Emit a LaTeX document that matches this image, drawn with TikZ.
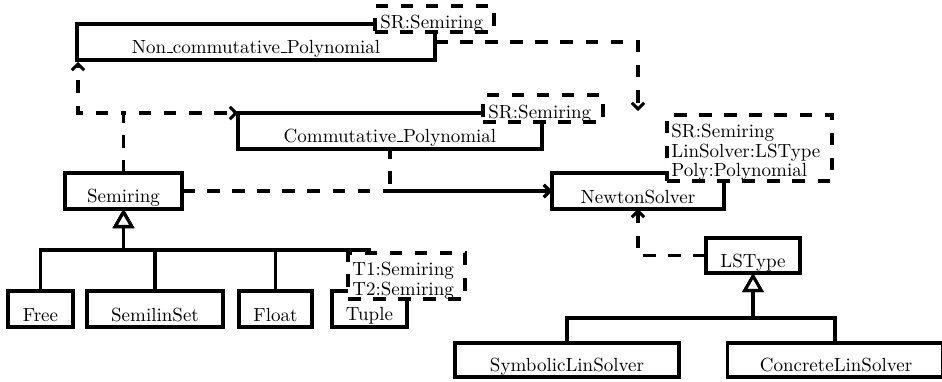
\documentclass[tikz,border=0pt]{standalone}
\usetikzlibrary{arrows.meta,calc}
\newcommand\usc{\leavevmode\kern.06em\vbox{\hrule width.3em}}
\begin{document}
\begin{tikzpicture}[x=0.526pt,y=-0.526pt,
  sz/.style 2 args={minimum width=#1*0.526pt, minimum height=#2*0.526pt},
  cls/.style={draw, line width=1.6pt, fill=white, inner sep=0pt, outer sep=0pt},
  tpl/.style={draw, line width=1.6pt, dash pattern=on 6.6pt off 6.6pt, fill=white, inner sep=0pt, outer sep=0pt},
  lbl/.style={inner sep=0pt, anchor=base},
  tlbl/.style={inner sep=0pt, anchor=base west},
  dep/.style={line width=1.6pt, dash pattern=on 6.6pt off 6.6pt, -{Straight Barb[length=3.2pt,width=6.5pt]}},
  inh/.style={line width=1.6pt, -{Triangle[open,fill=white,length=10pt,width=11pt]}}]
\useasboundingbox (0,0) rectangle (942,381);

% classes
\node[cls, sz={358}{36}] (noncomm) at (256,42) {};
\node[lbl] (noncommT) at (256,53) {Non\usc commutative\usc Polynomial};
\node[cls, sz={304}{36}] (comm) at (390,131) {};
\node[lbl] (commT) at (390,142) {Commutative\usc Polynomial};
\node[cls, sz={117}{36}] (semiring) at (123.5,191) {};
\node[lbl] (semiringT) at (123.5,202) {Semiring};
\node[cls, sz={172}{36}] (newton) at (638,191) {};
\node[lbl] (newtonT) at (638,203) {NewtonSolver};
\node[cls, sz={65}{36}] (free) at (40.5,309) {};
\node[lbl] (freeT) at (40.5,321) {Free};
\node[cls, sz={136}{36}] (semilin) at (155,309) {};
\node[lbl] (semilinT) at (155,321) {SemilinSet};
\node[cls, sz={73}{36}] (float) at (275.5,309) {};
\node[lbl] (floatT) at (275.5,321) {Float};
\node[cls, sz={75}{36}] (tuple) at (369.5,309) {};
\node[lbl] (tupleT) at (369.5,320) {Tuple};
\node[cls, sz={94}{35}] (lstype) at (753,255.5) {};
\node[lbl] (lstypeT) at (753,267) {LSType};
\node[cls, sz={224}{34}] (symb) at (567,360) {};
\node[lbl] (symbT) at (567,371) {SymbolicLinSolver};
\node[cls, sz={215}{34}] (conc) at (835,360) {};
\node[lbl] (concT) at (836,371) {ConcreteLinSolver};

% inheritance
\coordinate (sbar) at (123.5,250);
\draw[inh] (free.north) |- (sbar) -- (semiring.south);
\draw[inh] (semilin.north) |- (sbar) -- (semiring.south);
\draw[inh] (float.north) |- (sbar) -- (semiring.south);
\draw[inh] (tuple.north) |- (sbar) -- (semiring.south);
\coordinate (lbar) at (753,318);
\draw[inh] (symb.north) |- (lbar) -- (lstype.south);
\draw[inh] (conc.north) |- (lbar) -- (lstype.south);

% dependencies
\coordinate (j1) at (123.5,113);
\coordinate (ncin) at (78,62);
\coordinate (ntop) at (638,111);
\draw[dep] (semiring.north) -- (j1) -| (ncin);
\draw[dep] (semiring.north) |- (comm.north west);
\draw[dep] (semiring.east) -- (newton.west);
\draw[dep, dash phase=1.516pt] (comm.south) |- (newton.west);
\draw[dep] (noncomm.east) -| (ntop);
\draw[dep] (lstype.west) -| (newton.south);

% templates
\node[tpl, sz={119}{26}] (tnc) at (434.5,19) {};
\node[tlbl] (tncT) at (380,28) {SR:Semiring};
\node[tpl, sz={120}{27}] (tcomm) at (543,108.5) {};
\node[tlbl] (tcommT) at (488,118) {SR:Semiring};
\node[tpl, sz={165}{66}] (tnewton) at (749.5,148) {};
\node[tlbl] (tnewtonA) at (671,137) {SR:Semiring};
\node[tlbl] (tnewtonB) at (671,157) {LinSolver:LSType};
\node[tlbl] (tnewtonC) at (671,176) {Poly:Polynomial};
\node[tpl, sz={117}{46}] (ttuple) at (406.5,276) {};
\node[tlbl] (ttupleA) at (352,275) {T1:Semiring};
\node[tlbl] (ttupleB) at (352,295) {T2:Semiring};
\end{tikzpicture}
\end{document}
